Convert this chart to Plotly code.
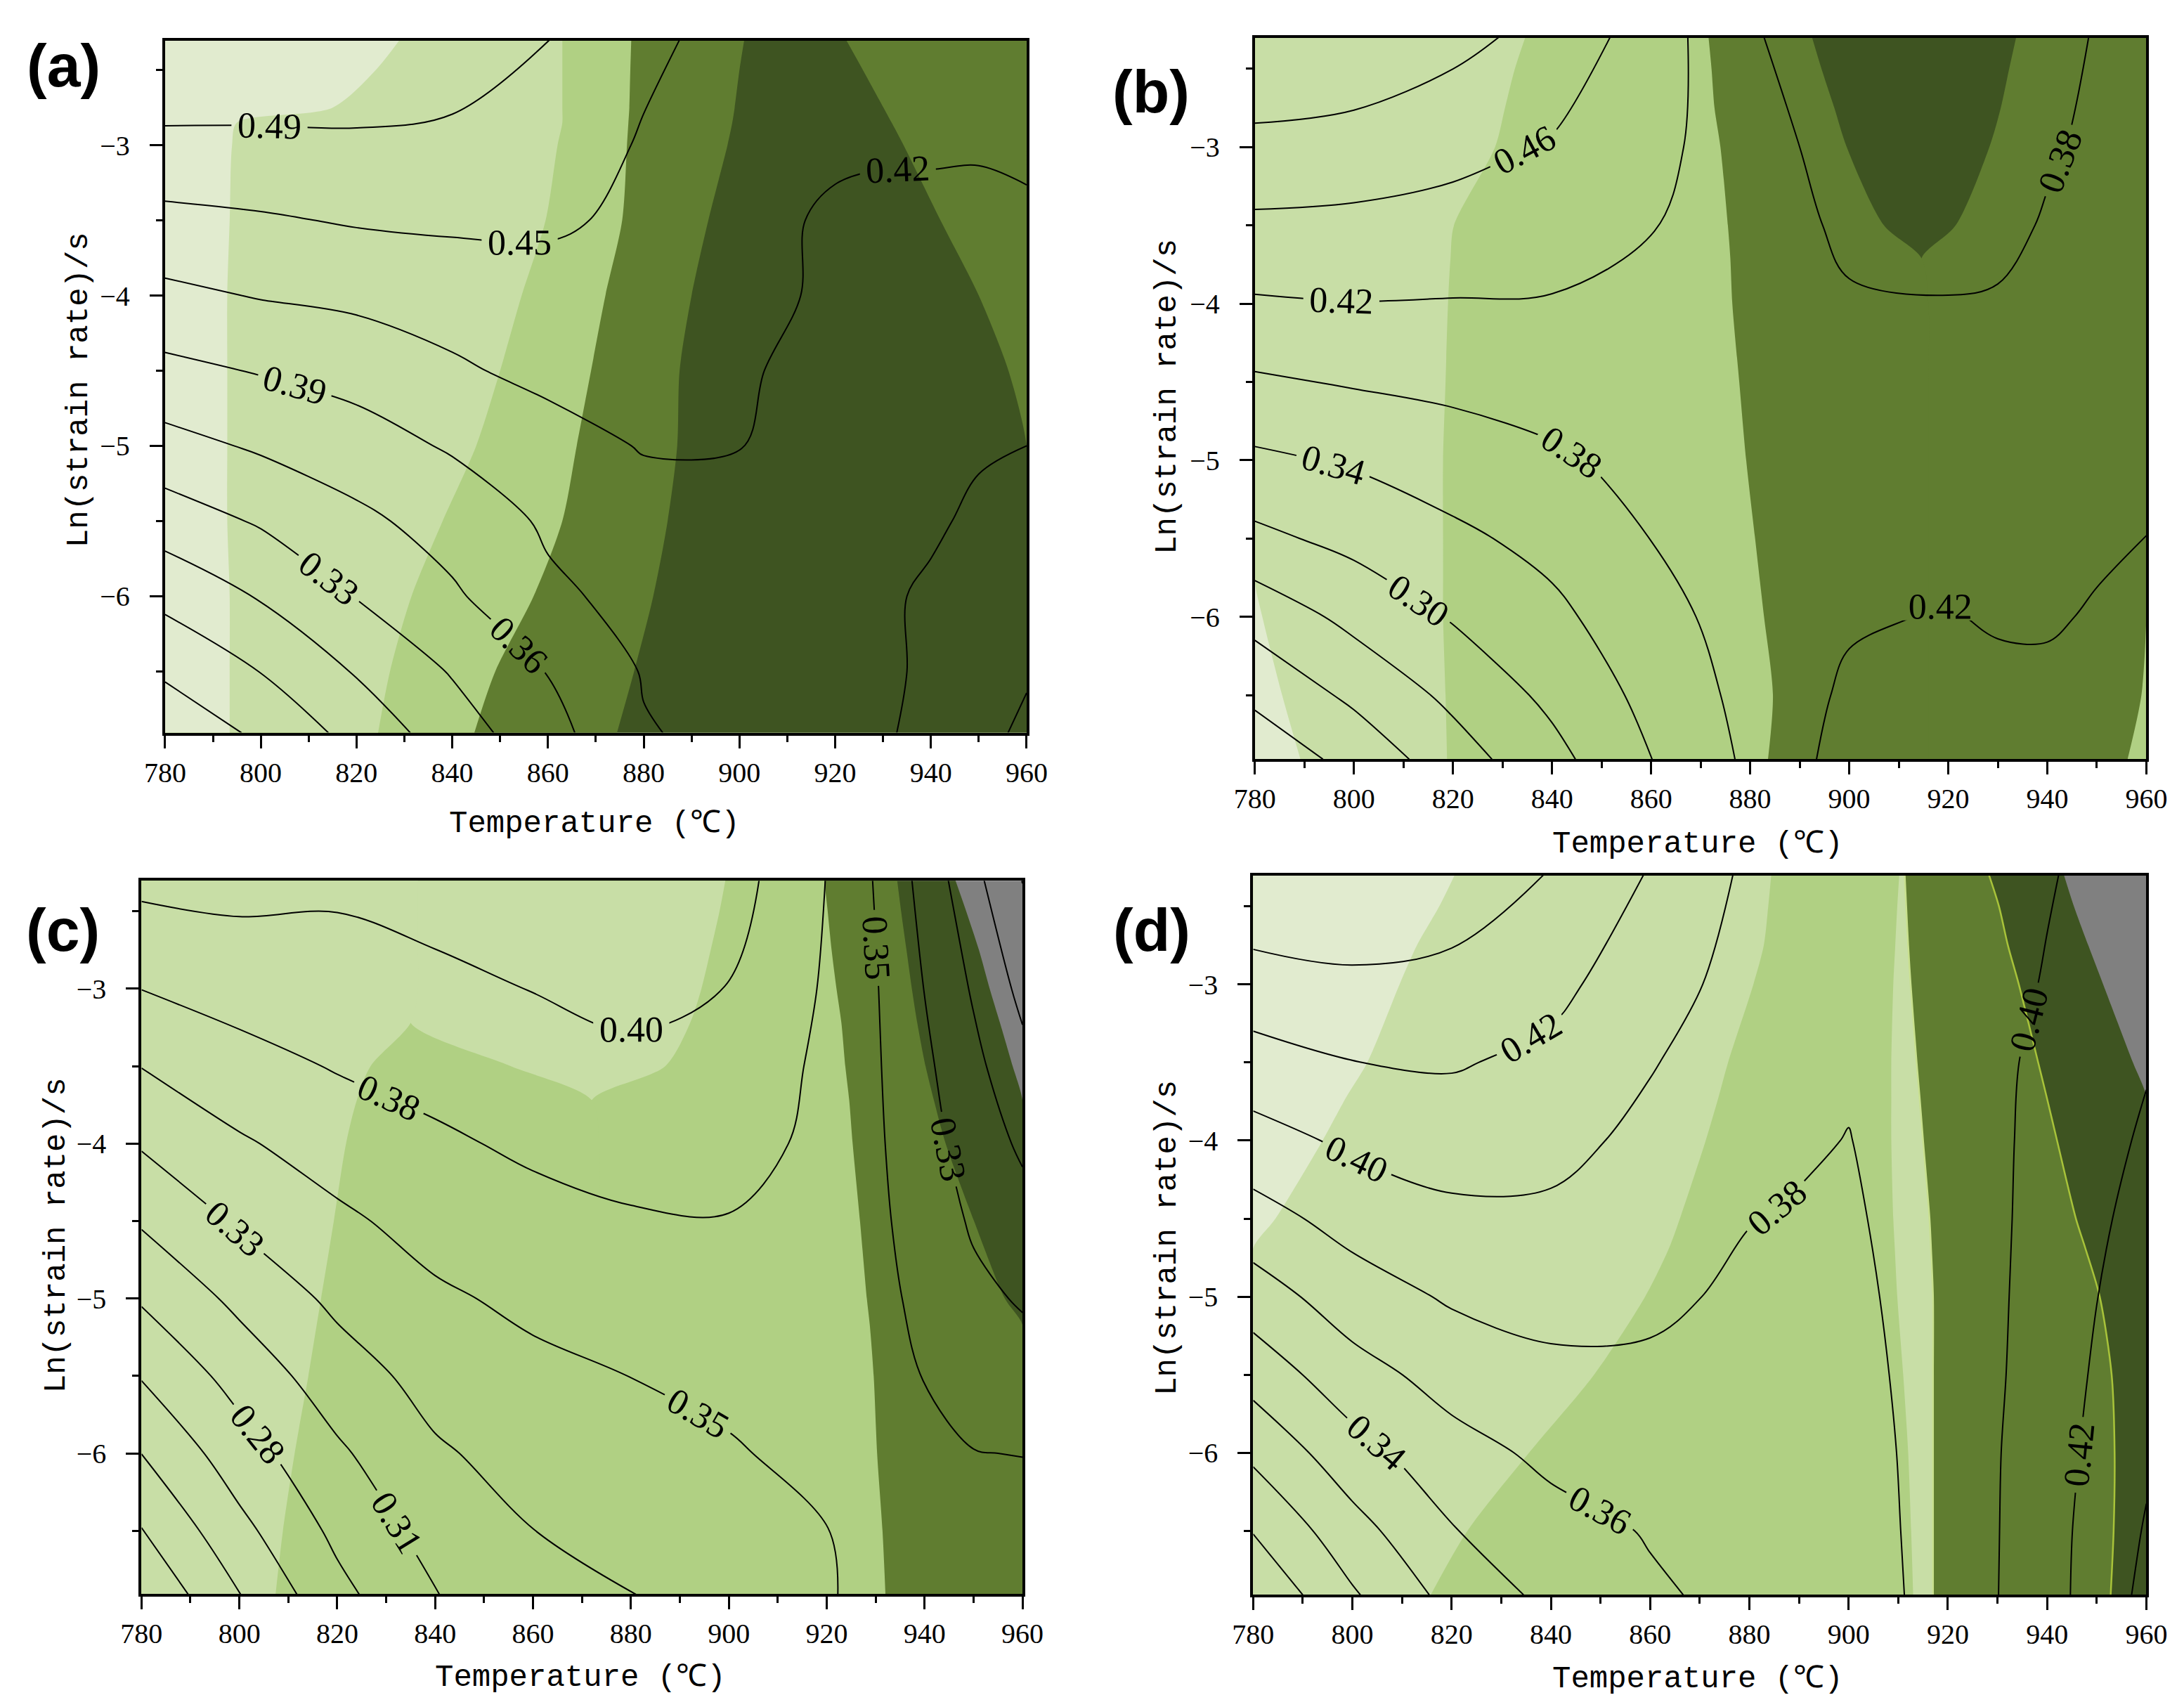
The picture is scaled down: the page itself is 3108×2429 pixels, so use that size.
import plotly.graph_objects as go

# Grid of the four processing maps
TEMPS = [780, 800, 820, 840, 860, 880, 900, 920, 930, 940, 950, 960]
LN_RATES = [-6.91, -6.5, -6.0, -5.5, -5.0, -4.5, -4.0, -3.5, -3.0, -2.3]

# Power dissipation efficiency, one row per ln(strain rate), bottom row first
ETA_A = [
    [0.205, 0.235, 0.272, 0.310, 0.346, 0.388, 0.398, 0.395, 0.392, 0.385, 0.370, 0.350],
    [0.234, 0.262, 0.296, 0.328, 0.359, 0.392, 0.400, 0.395, 0.393, 0.387, 0.375, 0.362],
    [0.270, 0.296, 0.327, 0.353, 0.385, 0.398, 0.405, 0.400, 0.394, 0.386, 0.380, 0.375],
    [0.309, 0.329, 0.350, 0.372, 0.394, 0.410, 0.412, 0.405, 0.400, 0.394, 0.385, 0.378],
    [0.347, 0.362, 0.378, 0.393, 0.410, 0.424, 0.423, 0.405, 0.400, 0.396, 0.393, 0.390],
    [0.382, 0.392, 0.400, 0.418, 0.430, 0.435, 0.430, 0.400, 0.399, 0.399, 0.400, 0.401],
    [0.415, 0.424, 0.430, 0.435, 0.440, 0.438, 0.435, 0.415, 0.408, 0.405, 0.406, 0.410],
    [0.446, 0.451, 0.457, 0.460, 0.460, 0.447, 0.438, 0.415, 0.410, 0.410, 0.412, 0.417],
    [0.479, 0.480, 0.482, 0.481, 0.470, 0.452, 0.443, 0.430, 0.428, 0.428, 0.426, 0.428],
    [0.520, 0.515, 0.510, 0.500, 0.487, 0.460, 0.445, 0.440, 0.438, 0.435, 0.432, 0.430],
]
ETA_B = [
    [0.150, 0.190, 0.241, 0.288, 0.341, 0.390, 0.440, 0.450, 0.450, 0.450, 0.455, 0.460],
    [0.186, 0.227, 0.269, 0.310, 0.353, 0.395, 0.430, 0.437, 0.435, 0.435, 0.445, 0.450],
    [0.2325, 0.271, 0.304, 0.332, 0.368, 0.400, 0.419, 0.426, 0.419, 0.418, 0.428, 0.438],
    [0.291, 0.312, 0.333, 0.354, 0.383, 0.402, 0.410, 0.414, 0.413, 0.413, 0.416, 0.424],
    [0.334, 0.346, 0.363, 0.377, 0.394, 0.404, 0.400, 0.404, 0.405, 0.406, 0.408, 0.410],
    [0.377, 0.386, 0.392, 0.399, 0.404, 0.405, 0.393, 0.394, 0.396, 0.400, 0.402, 0.403],
    [0.419, 0.4225, 0.4215, 0.421, 0.415, 0.405, 0.386, 0.384, 0.386, 0.393, 0.397, 0.400],
    [0.457, 0.455, 0.449, 0.441, 0.425, 0.403, 0.375, 0.370, 0.372, 0.386, 0.393, 0.398],
    [0.494, 0.488, 0.477, 0.461, 0.435, 0.400, 0.365, 0.360, 0.362, 0.378, 0.390, 0.397],
    [0.547, 0.540, 0.517, 0.492, 0.445, 0.387, 0.355, 0.350, 0.355, 0.365, 0.386, 0.395],
]
ETA_C = [
    [0.195, 0.238, 0.278, 0.307, 0.3185, 0.330, 0.340, 0.351, 0.362, 0.362, 0.365, 0.370],
    [0.2145, 0.255, 0.2898, 0.3166, 0.3303, 0.3368, 0.345, 0.353, 0.362, 0.360, 0.360, 0.363],
    [0.2387, 0.2743, 0.3039, 0.3276, 0.3393, 0.3452, 0.3514, 0.360, 0.362, 0.357, 0.354, 0.353],
    [0.263, 0.2933, 0.3198, 0.3388, 0.3483, 0.3537, 0.359, 0.365, 0.361, 0.353, 0.345, 0.3404],
    [0.287, 0.313, 0.3355, 0.3501, 0.3582, 0.364, 0.3673, 0.370, 0.360, 0.348, 0.336, 0.3283],
    [0.310, 0.3336, 0.3493, 0.3616, 0.3695, 0.3744, 0.3757, 0.373, 0.358, 0.344, 0.3276, 0.3161],
    [0.3327, 0.3508, 0.3637, 0.373, 0.3803, 0.3847, 0.3835, 0.372, 0.357, 0.339, 0.3204, 0.3038],
    [0.354, 0.3686, 0.378, 0.384, 0.3903, 0.395, 0.3913, 0.372, 0.356, 0.335, 0.3133, 0.2913],
    [0.3768, 0.3852, 0.390, 0.3946, 0.400, 0.405, 0.399, 0.374, 0.355, 0.330, 0.305, 0.2786],
    [0.405, 0.4067, 0.4035, 0.408, 0.410, 0.410, 0.410, 0.376, 0.352, 0.323, 0.291, 0.261],
]
ETA_D = [
    [0.252, 0.290, 0.321, 0.341, 0.3545, 0.362, 0.368, 0.3867, 0.3997, 0.414, 0.430, 0.4485],
    [0.272, 0.306, 0.3342, 0.350, 0.3583, 0.364, 0.369, 0.3871, 0.3994, 0.4138, 0.4289, 0.4446],
    [0.297, 0.3272, 0.3494, 0.3615, 0.3667, 0.367, 0.370, 0.3876, 0.399, 0.4125, 0.4264, 0.440],
    [0.3223, 0.3488, 0.3651, 0.374, 0.3751, 0.371, 0.372, 0.3879, 0.3978, 0.4105, 0.4239, 0.4374],
    [0.3467, 0.3683, 0.381, 0.3853, 0.3823, 0.375, 0.374, 0.3884, 0.3973, 0.4088, 0.4212, 0.4339],
    [0.3703, 0.3863, 0.3954, 0.396, 0.3885, 0.379, 0.376, 0.3892, 0.3971, 0.4069, 0.418, 0.429],
    [0.392, 0.4038, 0.4095, 0.4063, 0.3948, 0.384, 0.378, 0.3906, 0.3972, 0.4054, 0.4149, 0.4243],
    [0.4131, 0.4212, 0.4234, 0.4164, 0.4013, 0.388, 0.381, 0.3917, 0.397, 0.4039, 0.4127, 0.420],
    [0.434, 0.4391, 0.437, 0.4272, 0.409, 0.392, 0.384, 0.3923, 0.3965, 0.4008, 0.406, 0.411],
    [0.462, 0.461, 0.455, 0.442, 0.420, 0.396, 0.388, 0.3936, 0.3963, 0.3991, 0.403, 0.406],
]

# Contour levels of each map: first level, spacing, number of levels
LEVELS_A = [0.229, 0.0322, 9]
LEVELS_B = [0.1775, 0.041, 9]
LEVELS_C = [0.2155, 0.023, 9]
LEVELS_D = [0.271, 0.0215, 9]

# Shaded domains: rows of ln(strain rate), band shades from left to right,
# and the temperature of every band edge on those rows
BAND_Y_A = [-6.91, -6.5, -6.0, -5.5, -5.0, -4.5, -4.0, -3.5, -3.0, -2.85, -2.75, -2.5, -2.3]
BANDS_A = ["lightest", "light", "mid", "dark", "darkest", "dark"]
EDGES_A = [
    [793.5, 793.5, 793.5, 793, 793, 793, 793, 793.5, 794, 795, 815, 824, 829],
    [824.5, 827, 831.5, 838, 845, 850, 854.5, 859.5, 862, 863, 863, 863, 863],
    [844.6, 849, 857, 863, 866, 869, 872, 875.5, 876.5, 876.8, 877, 877.2, 877.4],
    [874.4, 878, 882, 885, 887, 887.5, 890, 893.5, 897.5, 898.5, 899, 900, 901],
    [960, 960, 960, 960, 960, 956.2, 950, 942, 934.3, 931.8, 930.1, 925.8, 922.3],
]

BAND_Y_B = [-6.91, -6.5, -6.0, -5.78, -5.5, -5.0, -4.5, -4.0, -3.71, -3.5, -3.0, -2.75, -2.5, -2.3]
BANDS_B = ["lightest", "light", "mid", "dark", "darkest", "dark", "mid"]
EDGES_B = [
    [789.2, 785.5, 781.5, 780, 780, 780, 780, 780, 780, 780, 780, 780, 780, 780],
    [818.8, 818.5, 818, 818, 818, 818, 818.5, 819, 819.5, 820.2, 828.5, 830.5, 832.5, 834.6],
    [883.6, 884.6, 882.8, 882, 881, 879.2, 877.8, 876.4, 876, 875.5, 874, 872.8, 872.2, 871.6],
    [916, 916, 916, 916, 916, 916, 916, 916, 914.6, 907, 899.5, 897, 894.4, 892.5],
    [914.6, 914.6, 914.6, 914.6, 914.6, 914.6, 914.6, 914.6, 914.6, 921.5, 928.3, 930.6, 932.3, 933.7],
    [956.2, 959, 960, 960, 960, 960, 960, 960, 960, 960, 960, 960, 960, 960],
]

BAND_Y_C = [-6.91, -6.5, -6.0, -5.5, -5.17, -5.0, -4.5, -4.0, -3.72, -3.5, -3.22, -3.0, -2.75, -2.5, -2.3]
BANDS_C = ["light", "mid", "light", "mid", "dark", "darkest", "gray"]
EDGES_C = [
    [807.4, 808.9, 811.3, 814.1, 815.8, 816.7, 819.3, 821.8, 824, 826.8, 835, 836.5, 836.5, 836.5, 836.5],
    [873.5, 873.5, 873.5, 873.5, 873.5, 873.5, 873.5, 873.5, 872, 855.5, 835, 835, 835, 835, 835],
    [872, 872, 872, 872, 872, 872, 872, 872, 872, 887, 892.1, 894.4, 896.3, 898.1, 899.3],
    [932, 931.4, 930.3, 929.6, 928.8, 928.2, 926.8, 925.3, 924.6, 923.8, 923, 922, 921, 920.2, 919.5],
    [960, 960, 960, 960, 960, 956.4, 950.1, 944.3, 941.9, 940.2, 938.5, 937.4, 936.3, 935.2, 934.4],
    [960, 960, 960, 960, 960, 960, 960, 960, 960, 958, 955.4, 953.3, 951.1, 948.5, 946.3],
]

BAND_Y_D = [-6.91, -6.5, -6.0, -5.5, -5.0, -4.69, -4.5, -4.0, -3.72, -3.5, -3.0, -2.75, -2.5, -2.3]
BANDS_D = ["lightest", "light", "mid", "light", "dark", "darkest", "gray"]
EDGES_D = [
    [780, 780, 780, 780, 780, 780, 784.5, 794, 798.8, 803, 809.5, 813, 817.5, 820.6],
    [815.8, 823.2, 835.6, 848.7, 859, 863.8, 866, 871.2, 873.8, 875.7, 880.8, 882.9, 883.8, 884.4],
    [913, 912.6, 912, 911, 909.8, 909.3, 909, 908.6, 908.6, 908.6, 909, 909.4, 909.8, 910.2],
    [917, 917, 917, 917, 917, 916.6, 916.3, 915, 914.3, 913.7, 912.5, 912, 911.6, 911.3],
    [952.8, 953.4, 953.6, 953, 950.6, 947.7, 945.8, 942, 939.9, 938.2, 934.3, 932.1, 930.3, 928.3],
    [960, 960, 960, 960, 960, 960, 960, 960, 960, 957.3, 951.3, 948.3, 945.4, 943.4],
]

SHADES = {
    "lightest": "#e1ebcf",
    "light": "#c8dea6",
    "mid": "#b0d083",
    "dark": "#607d30",
    "darkest": "#3e5421",
    "gray": "#808080",
}

T_RANGE = [780, 960]
Y_RANGE = [-6.908, -2.303]
SERIF = "Liberation Serif"
MONO = "Liberation Mono, DejaVu Sans Mono, monospace"

panels = [
    dict(tag="(a)", eta=ETA_A, levels=LEVELS_A, band_y=BAND_Y_A, bands=BANDS_A, edges=EDGES_A,
         outlines={}, xdom=[0.0730, 0.4675], ydom=[0.5741, 0.9796],
         tag_xy=(0.0264, 0.9650), xt_xy=(0.2696, 0.5208), yt_xy=(0.0335, 0.7748)),
    dict(tag="(b)", eta=ETA_B, levels=LEVELS_B, band_y=BAND_Y_B, bands=BANDS_B, edges=EDGES_B,
         outlines={}, xdom=[0.5720, 0.9802], ydom=[0.5587, 0.9811],
         tag_xy=(0.5245, 0.9498), xt_xy=(0.7748, 0.5089), yt_xy=(0.5318, 0.7711)),
    dict(tag="(c)", eta=ETA_C, levels=LEVELS_C, band_y=BAND_Y_C, bands=BANDS_C, edges=EDGES_C,
         outlines={}, xdom=[0.0622, 0.4656], ydom=[0.0695, 0.4873],
         tag_xy=(0.0261, 0.4586), xt_xy=(0.2632, 0.0206), yt_xy=(0.0232, 0.2795)),
    dict(tag="(d)", eta=ETA_D, levels=LEVELS_D, band_y=BAND_Y_D, bands=BANDS_D, edges=EDGES_D,
         outlines={3: "#c9e08e", 4: "#a8c33a"},
         xdom=[0.5712, 0.9802], ydom=[0.0692, 0.4903],
         tag_xy=(0.5248, 0.4586), xt_xy=(0.7748, 0.0198), yt_xy=(0.5318, 0.2783)),
]

fig = go.Figure()
layout = {}
annotations = []

frame = dict(showline=True, linecolor="black", linewidth=4, mirror=True,
             ticks="outside", ticklen=18, tickwidth=3, tickcolor="black",
             showgrid=False, zeroline=False, fixedrange=True, automargin=False,
             tickfont=dict(family=SERIF, size=40, color="black"))

for i, p in enumerate(panels, start=1):
    sfx = "" if i == 1 else str(i)
    xa, ya, yo = "x" + sfx, "y" + sfx, "y" + str(i + 4)
    n = len(p["band_y"])
    columns = p["edges"] + [[T_RANGE[1]] * n]

    # shaded domains: each band is filled from the far left up to its right edge,
    # drawn right to left so that the next band to the left covers the rest
    for k in range(len(p["bands"]) - 1, -1, -1):
        outline = p["outlines"].get(k)
        fig.add_trace(go.Scatter(
            x=columns[k], y=p["band_y"], mode="lines", fill="tozerox",
            fillcolor=SHADES[p["bands"][k]],
            line=dict(color=outline or SHADES[p["bands"][k]], width=2.5 if outline else 0,
                      shape="spline", smoothing=0.8),
            xaxis=xa, yaxis=ya, hoverinfo="skip", showlegend=False))

    # efficiency contours on an overlaid axis so they sit above the shading
    start, step, count = p["levels"]
    fig.add_trace(go.Contour(
        x=TEMPS, y=LN_RATES, z=p["eta"], xaxis=xa, yaxis=yo,
        autocontour=False,
        contours=dict(start=start, end=start + step * (count - 1) + 1e-9, size=step,
                      coloring="none", showlabels=True, labelformat=".2f",
                      labelfont=dict(family=SERIF, size=52, color="black")),
        line=dict(color="black", width=2, smoothing=1.0),
        showscale=False, hoverinfo="skip"))

    layout["xaxis" + sfx] = dict(domain=p["xdom"], anchor=ya, range=T_RANGE, tick0=780, dtick=20,
                                 ticklabelstandoff=0,
                                 minor=dict(tick0=780, dtick=10, ticks="outside", ticklen=9,
                                            tickwidth=3, tickcolor="black"),
                                 **frame)
    layout["yaxis" + sfx] = dict(domain=p["ydom"], anchor=xa, range=Y_RANGE, tick0=-3, dtick=1,
                                 ticklabelstandoff=20,
                                 minor=dict(tick0=-3, dtick=0.5, ticks="outside", ticklen=9,
                                            tickwidth=3, tickcolor="black"),
                                 **frame)
    layout["yaxis" + str(i + 4)] = dict(overlaying=ya, anchor=xa, range=Y_RANGE, visible=False,
                                        fixedrange=True, automargin=False)

    annotations.append(dict(text=p["tag"], x=p["tag_xy"][0], y=p["tag_xy"][1], xref="paper",
                            yref="paper", showarrow=False, xanchor="center", yanchor="middle",
                            font=dict(family="Liberation Sans, Arial, sans-serif", size=86,
                                      color="black", weight="bold")))
    annotations.append(dict(text="Temperature (℃)", x=p["xt_xy"][0], y=p["xt_xy"][1],
                            xref="paper", yref="paper", showarrow=False, xanchor="center",
                            yanchor="middle", font=dict(family=MONO, size=44, color="black")))
    annotations.append(dict(text="Ln(strain rate)/s", x=p["yt_xy"][0], y=p["yt_xy"][1],
                            xref="paper", yref="paper", showarrow=False, xanchor="center",
                            yanchor="middle", textangle=-90,
                            font=dict(family=MONO, size=44, color="black")))

fig.update_layout(layout)
fig.update_layout(
    width=3108, height=2429, autosize=False,
    margin=dict(l=0, r=0, t=0, b=0, pad=0, autoexpand=False),
    paper_bgcolor="white", plot_bgcolor="white",
    showlegend=False, hovermode=False,
    annotations=annotations,
)

fig.write_html("out.html")
